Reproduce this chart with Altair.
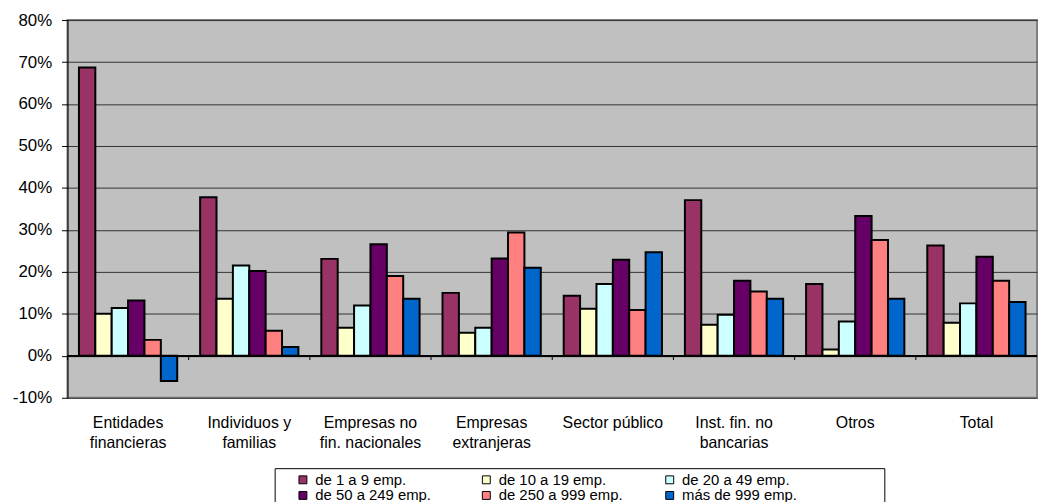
import altair as alt
import pandas as pd

categories = ["Entidades|financieras", "Individuos y|familias", "Empresas no|fin. nacionales",
              "Empresas|extranjeras", "Sector público", "Inst. fin.  no|bancarias", "Otros", "Total"]
series = ["de 1 a 9 emp.", "de 10 a 19 emp.", "de 20 a 49 emp.",
          "de 50 a 249 emp.", "de 250 a 999 emp.", "más de 999 emp."]
colors = ["#993366", "#FFFFCC", "#CCFFFF", "#660066", "#FF8080", "#0066CC"]

v_1_9 = [68.7, 37.8, 23.1, 15.0, 14.3, 37.1, 17.1, 26.3]
v_10_19 = [10.0, 13.6, 6.7, 5.5, 11.2, 7.4, 1.5, 7.9]
v_20_49 = [11.4, 21.5, 12.0, 6.7, 17.1, 9.8, 8.2, 12.5]
v_50_249 = [13.2, 20.2, 26.6, 23.2, 22.9, 17.9, 33.3, 23.6]
v_250_999 = [3.8, 6.0, 19.0, 29.4, 10.9, 15.3, 27.6, 17.9]
v_999 = [-6.0, 2.1, 13.6, 21.0, 24.7, 13.6, 13.6, 12.8]

y_ticks = [-0.1, 0.0, 0.1, 0.2, 0.3, 0.4, 0.5, 0.6, 0.7, 0.8]

# legend grid fills column by column: reorder so rows read 1-9, 10-19, 20-49 / 50-249, ...
legend_order = [0, 3, 1, 4, 2, 5]
legend_series = [series[i] for i in legend_order]
legend_colors = [colors[i] for i in legend_order]

rows = []
for s, vals in zip(series, [v_1_9, v_10_19, v_20_49, v_50_249, v_250_999, v_999]):
    for c, v in zip(categories, vals):
        rows.append({"cat": c, "serie": s, "valor": v / 100})
df = pd.DataFrame(rows)
cat_df = pd.DataFrame({"cat": categories})

x_axis = alt.Axis(title=None, labelExpr="split(datum.label, '|')", ticks=False, domain=False,
                  labelAngle=0, labelPadding=17, labelFontSize=16, labelLineHeight=20,
                  labelColor="black", labelLimit=300)
x_scale = alt.Scale(paddingInner=0, paddingOuter=0)

y_enc = alt.Y("valor:Q", title=None,
              scale=alt.Scale(domain=[-0.1, 0.8], nice=False, zero=False),
              axis=alt.Axis(format=".0%", values=y_ticks, grid=True, gridColor="#333333",
                            labelExpr="(datum.value < 0 ? '-' : '') + format(abs(datum.value), '.0%')",
                            gridWidth=1, tickColor="black", domainColor="black", tickSize=6,
                            labelPadding=10, labelFontSize=17, labelColor="black",
                            minExtent=60, maxExtent=60))

bars = alt.Chart(df).mark_bar(stroke="black", strokeWidth=2).encode(
    x=alt.X("cat:N", sort=categories, scale=x_scale, axis=x_axis),
    xOffset=alt.XOffset("serie:N", sort=series,
                        scale=alt.Scale(paddingInner=0, paddingOuter=0.7)),
    y=y_enc,
    color=alt.Color("serie:N", sort=legend_series,
                    scale=alt.Scale(domain=legend_series, range=legend_colors),
                    legend=alt.Legend(orient="none", legendX=209, legendY=452, columns=3,
                                      gridAlign="all", columnPadding=22, rowPadding=0,
                                      symbolType="square", symbolSize=64,
                                      symbolStrokeColor="black", symbolStrokeWidth=1,
                                      labelFontSize=15, labelOffset=5, labelColor="black",
                                      padding=4, strokeColor="black", symbolOffset=17,
                                      title=" ", titleOrient="right", titlePadding=84)),
)

zero = alt.Chart(cat_df).mark_rule(color="black", strokeWidth=1.5).encode(
    y=alt.datum(0)
)

ticks = alt.Chart(cat_df).mark_rule(color="black", strokeWidth=1).encode(
    x=alt.X("cat:N", sort=categories, bandPosition=0, scale=x_scale, axis=x_axis),
    y=alt.datum(0),
    y2=alt.datum(-0.01),
)

chart = alt.layer(bars, zero, ticks).properties(
    width=978, height=381,
    padding={"left": 0, "top": 1, "right": 0, "bottom": 0},
).configure(font="Liberation Sans").configure_view(
    fill="#C0C0C0", stroke="#808080", strokeWidth=2
)

chart.save("out.html", embed_options={"renderer": "svg", "actions": False})
